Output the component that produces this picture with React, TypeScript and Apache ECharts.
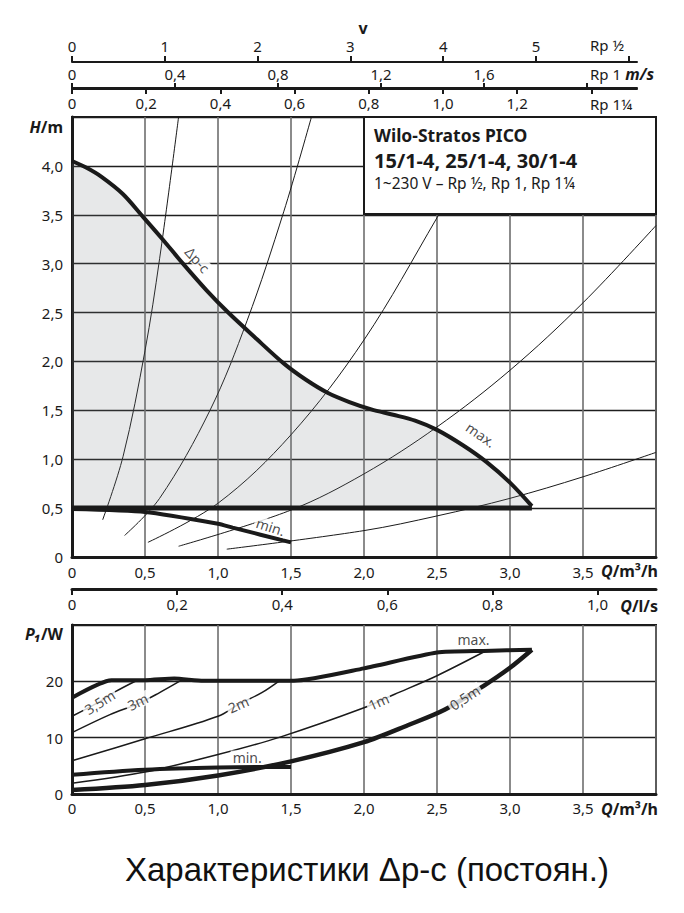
import React, { useEffect, useRef } from 'react';
import * as echarts from 'echarts';

// ---------- axis tick values ----------
const Q_LABELS = [0, 0.5, 1, 1.5, 2, 2.5, 3, 3.5];
const LS_TICKS = [0, 0.2, 0.4, 0.6, 0.8, 1.0];
const H_LABELS = [0, 0.5, 1, 1.5, 2, 2.5, 3, 3.5, 4];
const P_LABELS = [0, 10, 20];
const V12_TICKS = [0, 1, 2, 3, 4, 5, 6];
const V12_LABELS = [0, 1, 2, 3, 4, 5];
const V1_TICKS = [0, 0.4, 0.8, 1.2, 1.6, 2.0];
const V1_LABELS = [0, 0.4, 0.8, 1.2, 1.6];
const V114_TICKS = [0, 0.2, 0.4, 0.6, 0.8, 1.0, 1.2, 1.4];
const V114_LABELS = [0, 0.2, 0.4, 0.6, 0.8, 1.0, 1.2];

// m³/h per 1 m/s for each pipe size
const Q_PER_V_RP12 = 0.6356;
const Q_PER_V_RP1 = 1.7637;
const Q_PER_V_RP114 = 2.541;
const Q_PER_LS = 3.6;

// ---------- H/m curves ----------
const H_DPC: [number, number][] = [
  [0, 4.05], [0.1, 3.98], [0.2, 3.89], [0.35, 3.71], [0.48, 3.49], [0.62, 3.25],
  [0.76, 3.0], [0.92, 2.73], [1.07, 2.5], [1.25, 2.25], [1.45, 1.98], [1.6, 1.815],
  [1.75, 1.68], [1.9, 1.585], [2.05, 1.51], [2.2, 1.455], [2.35, 1.395], [2.5, 1.3],
  [2.68, 1.14], [2.84, 0.97], [3.0, 0.76], [3.15, 0.52],
];
const H_BASE: [number, number][] = [[0, 0.5], [3.15, 0.5]];
const H_MIN: [number, number][] = [[0, 0.49], [0.5, 0.46], [1.0, 0.34], [1.1, 0.3], [1.5, 0.15]];
const SYS_1: [number, number][] = [[0.21, 0.38], [0.35, 1.03], [0.5, 2.11], [0.6, 3.05], [0.73, 4.5]];
const SYS_2: [number, number][] = [[0.36, 0.22], [0.6, 0.6], [0.945, 1.5], [1.2, 2.42], [1.45, 3.53], [1.64, 4.5]];
const SYS_3: [number, number][] = [[0.52, 0.15], [1.0, 0.55], [1.5, 1.25], [2.0, 2.22], [2.5, 3.47], [2.6, 3.75]];
const SYS_4: [number, number][] = [[0.73, 0.11], [1.5, 0.48], [2.0, 0.85], [2.5, 1.33], [3.0, 1.91], [3.5, 2.6], [4.0, 3.39]];
const SYS_5: [number, number][] = [[1.06, 0.08], [2.0, 0.27], [2.5, 0.42], [3.0, 0.6], [3.5, 0.82], [4.0, 1.07]];

// ---------- P1/W curves ----------
const P_MAX: [number, number][] = [
  [0, 17.1], [0.27, 20.2], [0.5, 20.2], [0.7, 20.5], [0.9, 20.1], [1.52, 20.1],
  [2.0, 22.3], [2.5, 25.1], [2.82, 25.4], [3.15, 25.6],
];
const P_05M: [number, number][] = [
  [0, 0.7], [0.5, 1.6], [1.0, 3.3], [1.5, 5.8], [2.0, 9.2], [2.3, 12.2],
  [2.555, 15.0], [2.82, 19.2], [3.0, 22.4], [3.15, 25.6],
];
const P_1M: [number, number][] = [
  [0, 1.9], [0.5, 3.9], [1.0, 7.0], [1.425, 10.1], [2.0, 15.3], [2.21, 17.7], [2.5, 21.0], [2.82, 25.2],
];
const P_2M: [number, number][] = [[0, 5.9], [0.5, 9.8], [1.0, 13.8], [1.14, 15.9], [1.3, 18.0], [1.42, 20.1]];
const P_3M: [number, number][] = [[0, 10.9], [0.26, 14.1], [0.45, 16.0], [0.6, 18.0], [0.75, 20.2]];
const P_35M: [number, number][] = [[0, 13.8], [0.19, 16.4], [0.3, 18.2], [0.44, 20.1]];
const P_MIN: [number, number][] = [[0, 3.4], [0.5, 4.3], [1.0, 4.7], [1.5, 4.8]];

// ---------- curve annotations ----------
const H_NOTES = [
  { text: 'Δp-c', q: 0.86, v: 3.04, rot: -48 },
  { text: 'max.', q: 2.8, v: 1.25, rot: -35 },
  { text: 'min.', q: 1.36, v: 0.31, rot: -18 },
];
const P_NOTES = [
  { text: '3,5m', q: 0.19, v: 16.3, rot: 32 },
  { text: '3m', q: 0.45, v: 16.4, rot: 26 },
  { text: '2m', q: 1.14, v: 15.9, rot: 24 },
  { text: '1m', q: 2.1, v: 16.4, rot: 24 },
  { text: '0,5m', q: 2.69, v: 17.1, rot: 33 },
  { text: 'min.', q: 1.2, v: 6.5, rot: 0 },
  { text: 'max.', q: 2.75, v: 27.4, rot: 0 },
];

const FONT = 'Noto Sans';
const INK = '#1a1a1a';
const TICK_SIZE = 15;
const dec = (v: number) => (v === 0 ? '0' : v.toFixed(1).replace('.', ','));
const int = (v: number) => String(Math.round(v));

const LEFT = 72;
const PLOT_W = 584;
const VEL_W = 565;
const Q_MAX = 4;
const Q_VEL_END = (VEL_W / PLOT_W) * Q_MAX;

function line(data: [number, number][], width: number, xi: number, yi: number, extra: any = {}) {
  return {
    type: 'line', data, xAxisIndex: xi, yAxisIndex: yi, symbol: 'none', smooth: 0.35,
    lineStyle: { color: INK, width }, silent: true, z: width > 2 ? 4 : 3, ...extra,
  };
}

function notes(list: { text: string; q: number; v: number; rot: number }[], xi: number, yi: number) {
  return {
    type: 'scatter', xAxisIndex: xi, yAxisIndex: yi, symbolSize: 1, silent: true, z: 10,
    itemStyle: { color: 'transparent' },
    data: list.map((n) => ({
      value: [n.q, n.v],
      label: {
        show: true, position: 'inside', formatter: n.text, rotate: n.rot,
        fontFamily: FONT, fontSize: 14, color: INK,
        backgroundColor: '#fff', padding: [0, 2],
      },
    })),
  };
}

function velAxis(grid: number, max: number, pos: string, ticks: number[], labels: number[], fmt: (v: number) => string, margin: number) {
  return {
    type: 'value', gridIndex: grid, position: pos, min: 0, max,
    axisLine: { show: true, lineStyle: { color: INK, width: 2 } },
    axisTick: { show: true, inside: false, length: 6, customValues: ticks, lineStyle: { color: INK, width: 2 } },
    axisLabel: { show: true, customValues: labels, formatter: fmt, margin, fontFamily: FONT, fontSize: TICK_SIZE, color: INK },
    splitLine: { show: false },
  };
}

function hiddenY(grid: number) {
  return { type: 'value', gridIndex: grid, show: false, min: 0, max: 1 };
}

function txt(text: string, x: number, y: number, align: string, size: number, extra: any = {}) {
  return {
    type: 'text', x, y, z: 100,
    style: { text, align, verticalAlign: 'middle', fontFamily: FONT, fontSize: size, fill: INK, ...extra },
  };
}

const RICH = {
  bi: { fontFamily: FONT, fontSize: 16, fontWeight: 'bold', fontStyle: 'italic', fill: INK, color: INK },
  b: { fontFamily: FONT, fontSize: 16, fontWeight: 'bold', fill: INK, color: INK },
  n: { fontFamily: FONT, fontSize: TICK_SIZE, fill: INK, color: INK },
};

function rich(text: string, x: number, y: number, align: string) {
  return { type: 'text', x, y, z: 100, style: { text, align, verticalAlign: 'middle', rich: RICH, fontFamily: FONT, fontSize: 16, fill: INK } };
}

export default function App() {
  const ref = useRef<HTMLDivElement>(null);
  useEffect(() => {
    if (!ref.current) return;
    const chart = echarts.init(ref.current, null, { renderer: 'svg' });
    const vSplit = { show: true, lineStyle: { color: '#6e6e6e', width: 1.6 } };
    const hSplit = { show: true, lineStyle: { color: '#1e1e1e', width: 1.4 } };
    const option: any = {
      animation: false,
      backgroundColor: '#fff',
      title: {
        text: 'Характеристики Δp-c (постоян.)',
        left: 120, top: 848,
        textStyle: { fontFamily: 'Liberation Sans', fontSize: 33, fontWeight: 'normal', color: '#111' },
      },
      grid: [
        { left: LEFT, top: 117, width: PLOT_W, height: 440, show: true, borderColor: INK, borderWidth: 2, backgroundColor: 'transparent' },
        { left: LEFT, top: 61, width: VEL_W, height: 1 },
        { left: LEFT, top: 88, width: VEL_W, height: 1 },
        { left: LEFT, top: 87, width: VEL_W, height: 1 },
        { left: LEFT, top: 625, width: PLOT_W, height: 169, show: true, borderColor: INK, borderWidth: 2, backgroundColor: 'transparent' },
      ],
      xAxis: [
        {
          type: 'value', gridIndex: 0, min: 0, max: Q_MAX, interval: 0.5, position: 'bottom',
          axisLine: { show: true, onZero: false, lineStyle: { color: INK, width: 3 } },
          axisTick: { show: false },
          axisLabel: { customValues: Q_LABELS, formatter: dec, margin: 7, fontFamily: FONT, fontSize: TICK_SIZE, color: INK },
          splitLine: vSplit,
        },
        {
          type: 'value', gridIndex: 0, min: 0, max: Q_MAX / Q_PER_LS, position: 'bottom', offset: 32,
          axisLine: { show: true, onZero: false, lineStyle: { color: INK, width: 3 } },
          axisTick: { show: true, inside: false, length: 6, customValues: LS_TICKS, lineStyle: { color: INK, width: 2 } },
          axisLabel: { customValues: LS_TICKS, formatter: dec, margin: 7, fontFamily: FONT, fontSize: TICK_SIZE, color: INK },
          splitLine: { show: false },
        },
        velAxis(1, Q_VEL_END / Q_PER_V_RP12, 'top', V12_TICKS, V12_LABELS, int, 8),
        velAxis(2, Q_VEL_END / Q_PER_V_RP1, 'top', V1_TICKS, V1_LABELS, dec, 7),
        velAxis(3, Q_VEL_END / Q_PER_V_RP114, 'bottom', V114_TICKS, V114_LABELS, dec, 7),
        {
          type: 'value', gridIndex: 4, min: 0, max: Q_MAX, interval: 0.5, position: 'bottom',
          axisLine: { show: true, onZero: false, lineStyle: { color: INK, width: 3 } },
          axisTick: { show: false },
          axisLabel: { customValues: Q_LABELS, formatter: dec, margin: 6, fontFamily: FONT, fontSize: TICK_SIZE, color: INK },
          splitLine: vSplit,
        },
      ],
      yAxis: [
        {
          type: 'value', gridIndex: 0, min: 0, max: 4.5, interval: 0.5,
          axisLine: { show: true, onZero: false, lineStyle: { color: INK, width: 3 } },
          axisTick: { show: false },
          axisLabel: { customValues: H_LABELS, formatter: dec, margin: 9, fontFamily: FONT, fontSize: TICK_SIZE, color: INK },
          splitLine: hSplit,
        },
        hiddenY(1), hiddenY(2), hiddenY(3),
        {
          type: 'value', gridIndex: 4, min: 0, max: 30, interval: 10,
          axisLine: { show: true, onZero: false, lineStyle: { color: INK, width: 3 } },
          axisTick: { show: false },
          axisLabel: { customValues: P_LABELS, formatter: int, margin: 9, fontFamily: FONT, fontSize: TICK_SIZE, color: INK },
          splitLine: hSplit,
        },
      ],
      series: [
        line(H_DPC, 4, 0, 0, { smooth: 0.3, areaStyle: { color: 'rgba(120,125,135,0.26)', origin: 0.5 } }),
        line(H_BASE, 5, 0, 0, { smooth: false }),
        line(H_MIN, 4, 0, 0, { smooth: 0.2 }),
        line(SYS_1, 1, 0, 0),
        line(SYS_2, 1, 0, 0),
        line(SYS_3, 1, 0, 0),
        line(SYS_4, 1, 0, 0),
        line(SYS_5, 1, 0, 0),
        notes(H_NOTES, 0, 0),
        line(P_MAX, 4, 5, 4, { smooth: 0.2 }),
        line(P_05M, 4.5, 5, 4, { smooth: 0.3 }),
        line(P_MIN, 4, 5, 4),
        line(P_1M, 1.5, 5, 4, { smooth: 0.3 }),
        line(P_2M, 1.5, 5, 4),
        line(P_3M, 1.5, 5, 4),
        line(P_35M, 1.5, 5, 4),
        notes(P_NOTES, 5, 4),
      ],
      graphic: [
        {
          type: 'rect', z: 100,
          shape: { x: 364, y: 117, width: 292, height: 97 },
          style: { fill: '#fff', stroke: INK, lineWidth: 2 },
        },
        txt('Wilo-Stratos PICO', 374, 135, 'left', 17.5, { fontWeight: 'bold' }),
        txt('15/1-4, 25/1-4, 30/1-4', 374, 160, 'left', 20, { fontWeight: 'bold' }),
        txt('1~230 V – Rp ½, Rp 1, Rp 1¼', 374, 183, 'left', 15.5),
        txt('v', 363, 28, 'center', 16, { fontWeight: 'bold' }),
        txt('Rp ½', 590, 45, 'left', TICK_SIZE),
        rich('{n|Rp 1} {bi|m/s}', 590, 74, 'left'),
        txt('Rp 1¼', 590, 104, 'left', TICK_SIZE),
        rich('{bi|H}{b|/m}', 63, 127, 'right'),
        rich('{bi|Q}{b|/m³/h}', 658, 571, 'right'),
        rich('{bi|Q}{b|/l/s}', 658, 606, 'right'),
        rich('{bi|P₁}{b|/W}', 63, 634, 'right'),
        rich('{bi|Q}{b|/m³/h}', 658, 809, 'right'),
      ],
    };
    chart.setOption(option);
    return () => chart.dispose();
  }, []);
  return <div ref={ref} style={{ position: 'absolute', left: 0, top: 0, width: 684, height: 913, background: '#fff' }} />;
}
